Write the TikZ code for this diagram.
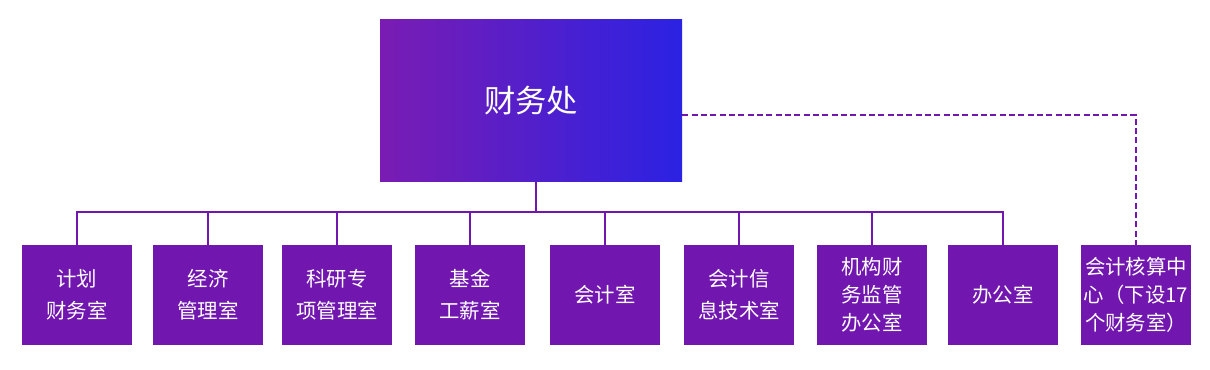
\documentclass[tikz,border=0pt]{standalone}
\usepackage{fontspec}
\setmainfont{Noto Sans CJK SC}
\usetikzlibrary{positioning}
\definecolor{agP}{HTML}{7216B0}
\definecolor{agT}{HTML}{7A1CB3}
\definecolor{agB}{HTML}{2B22E3}
\begin{document}
\begin{tikzpicture}[x=0.75pt,y=-0.75pt,
  dept/.style={fill=agP,text=white,minimum width=82.5pt,minimum height=75pt,inner sep=0pt,align=center,font=\fontsize{15.3}{21}\selectfont},
  head/.style={left color=agT,middle color=agT,right color=agB,minimum width=226.5pt,minimum height=121.5pt,inner sep=0pt,text=white,font=\fontsize{23.5}{28}\selectfont},
  link/.style={draw=agP,line width=1.4pt}]
\useasboundingbox (0,0) rectangle (1210,370);
\node[head] (top) at (531,101) {财务处};
\node[dept] (b1) at (77,295) {计划\\[3pt]财务室};
\node[dept] (b2) at (208,295) {经济\\[3pt]管理室};
\node[dept] (b3) at (337,295) {科研专\\[3pt]项管理室};
\node[dept] (b4) at (470,295) {基金\\[3pt]工薪室};
\node[dept] (b5) at (605,295) {会计室};
\node[dept] (b6) at (739,295) {会计信\\[3pt]息技术室};
\node[dept] (b7) at (872,295) {机构财\\务监管\\办公室};
\node[dept] (b8) at (1003,295) {办公室};
\node[dept] (b9) at (1136,295) {会计核算中\\心（下设17\\个财务室）};
\foreach \i in {1,...,8}
  \draw[link] ([xshift=3.75pt]top.south) -- ++(0,30) -| (b\i.north);
\draw[link,dashed,dash pattern=on 4.5pt off 2.5pt] ([yshift=-10.5pt]top.east) -| (b9.north);
\end{tikzpicture}
\end{document}
